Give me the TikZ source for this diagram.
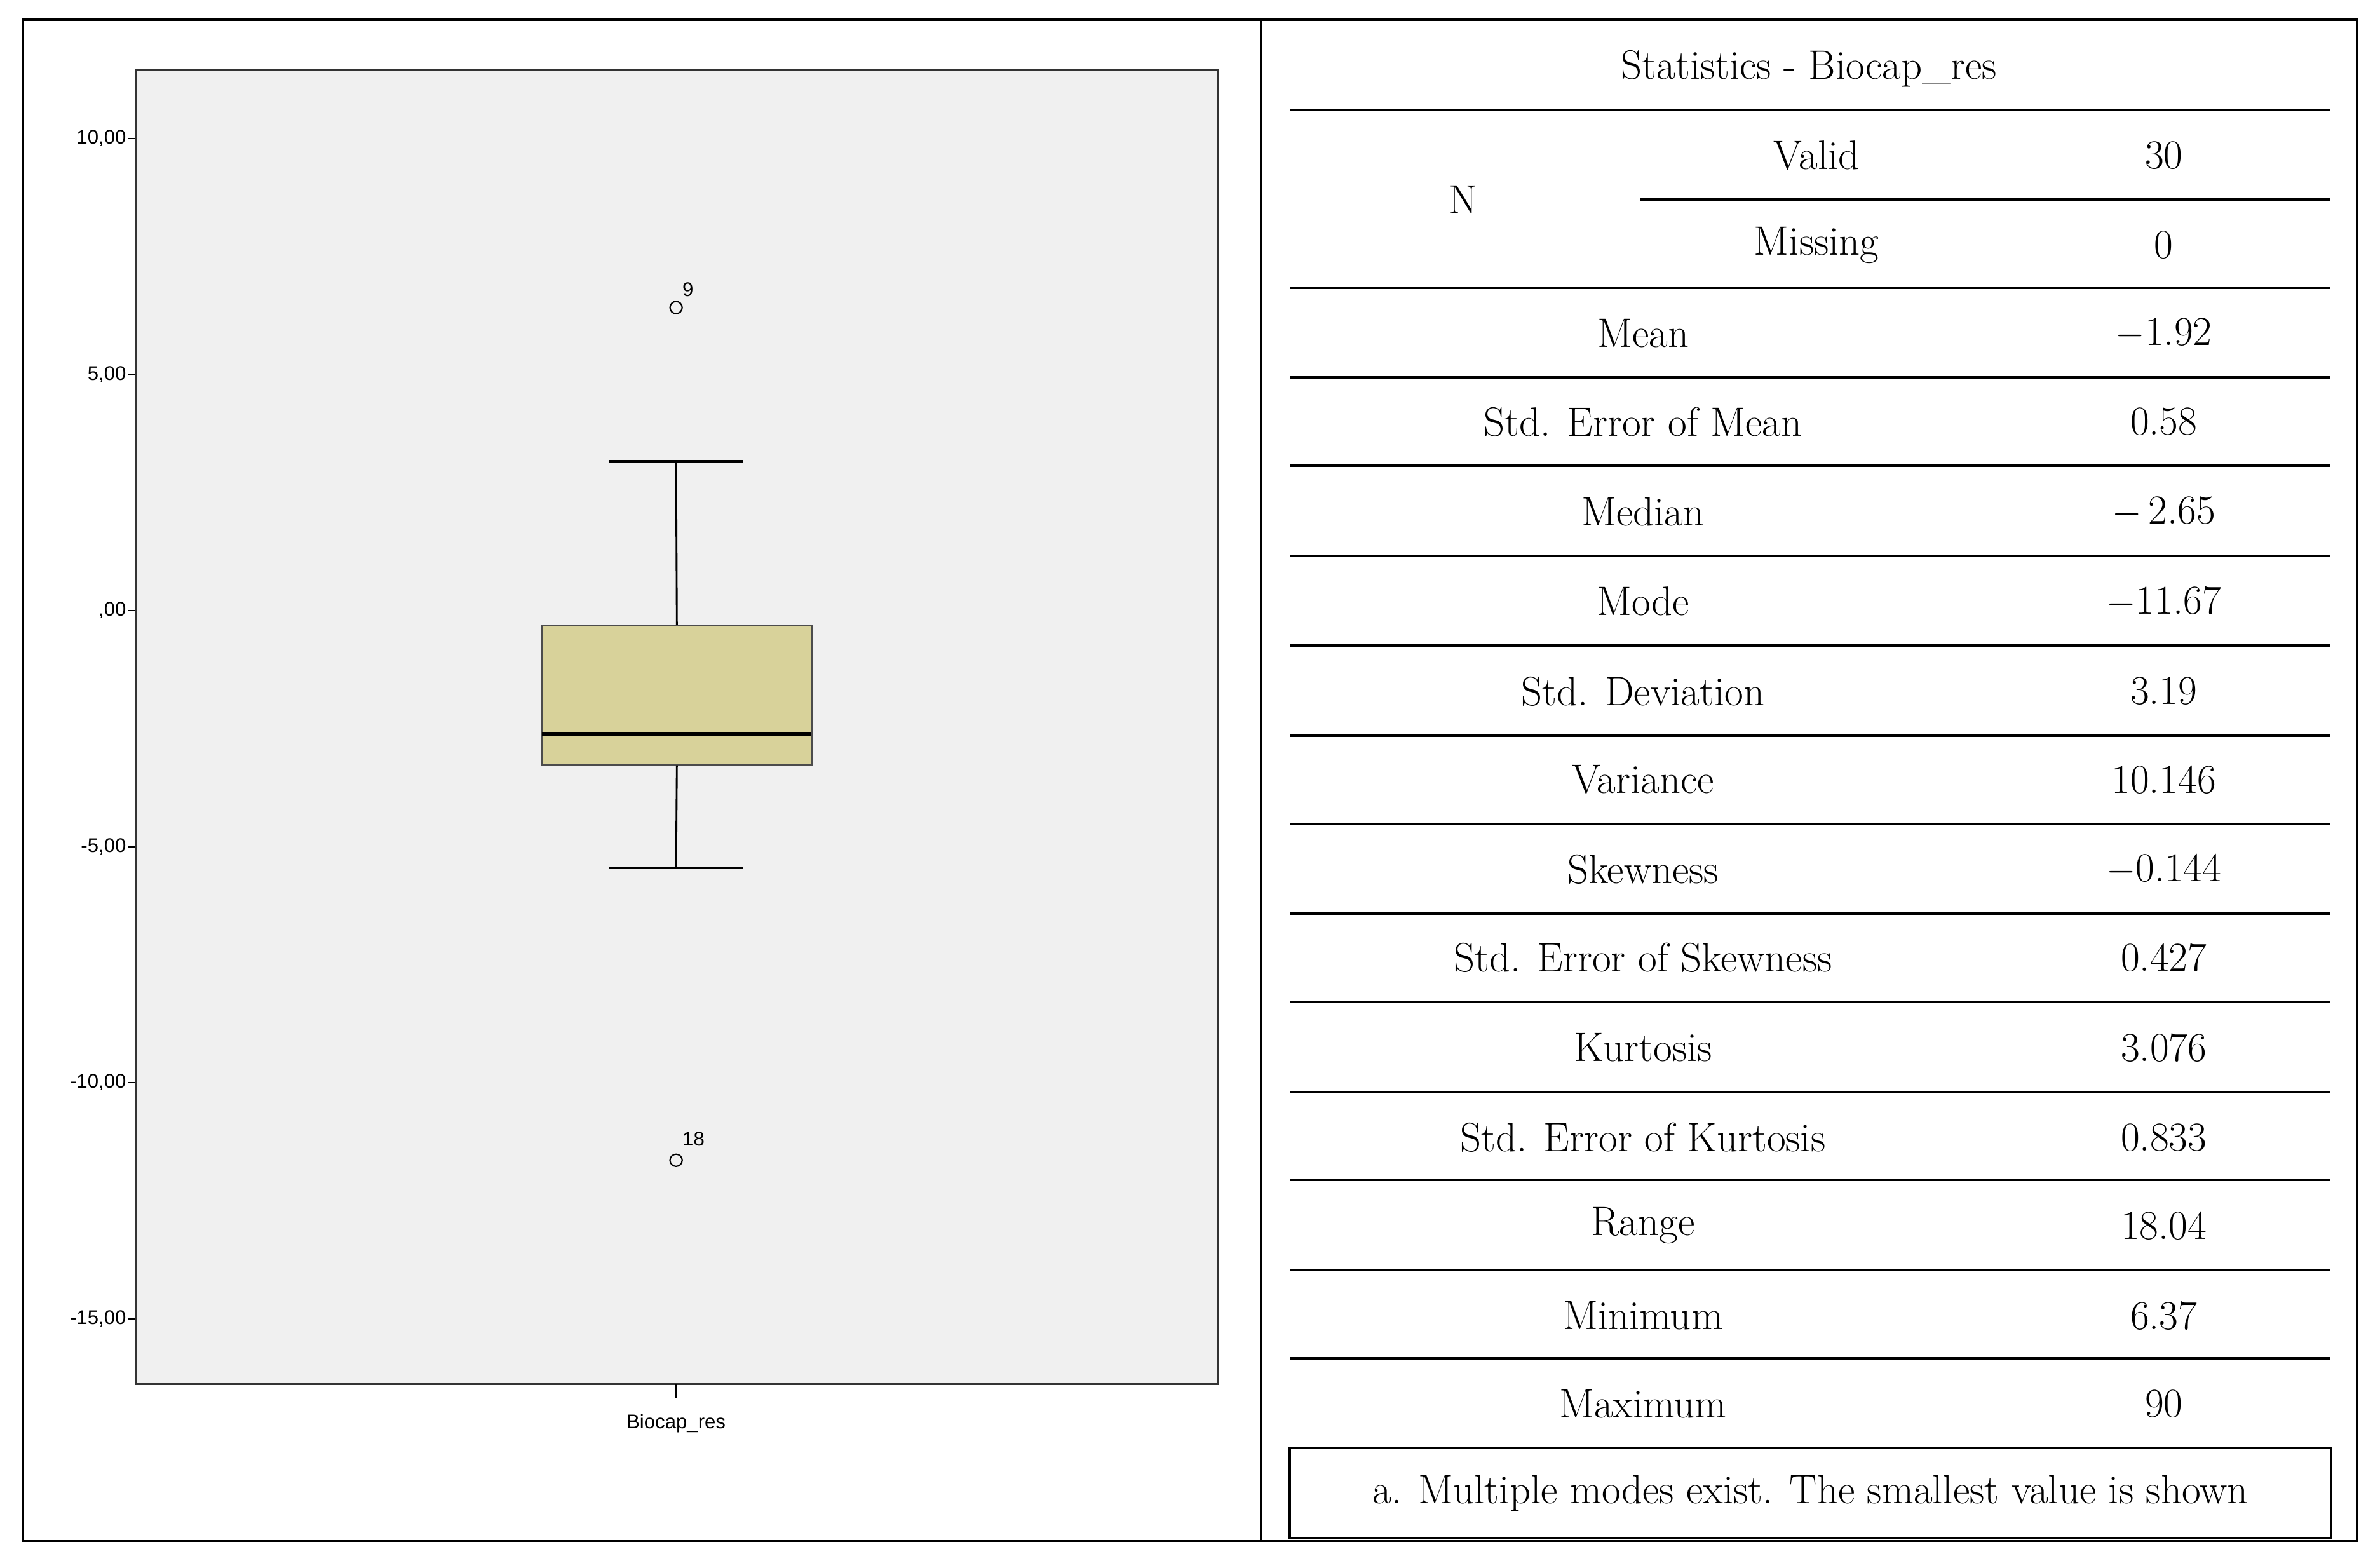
\documentclass[tikz,border=0pt]{standalone}
\usepackage{fontspec}
\newfontfamily\axfont{Liberation Sans}
\definecolor{boxfill}{HTML}{D8D29A}
\definecolor{plotbg}{HTML}{F0F0F0}
\begin{document}
\begin{tikzpicture}[x=1pt,y=-1pt,
  tab/.style={font=\fontsize{27}{30}\selectfont,anchor=center,inner sep=0},
  rule/.style={line width=1.6pt},
  ax/.style={font=\axfont\fontsize{13}{14}\selectfont,inner sep=1pt},
  tk/.style={line width=0.8pt}]
\useasboundingbox (0,0) rectangle (1563,1025);
\fill[white] (0,0) rectangle (1563,1025);
\draw[line width=1.6pt] (15,13) rectangle (1548,1012);
\draw[line width=1.6pt] (828,13) -- (828,1012);
% plot
\draw[fill=plotbg,line width=1.2pt,draw=black!80] (89,46) rectangle (800,909);
\foreach \y/\l in {91/{10,00},246/{5,00},401/{,00},556/{-5,00},711/{-10,00},866/{-15,00}}{
  \draw[tk] (84,\y) -- (89,\y);
  \node[ax,anchor=east] at (84,\y) {\l};}
\draw[tk] (444,909) -- (444,918);
\node[ax] (xl) at (444,935) {Biocap\_res};
\coordinate (wt) at (444,303); \coordinate (wb) at (444,570);
\node[draw=black!70,fill=boxfill,line width=1.2pt,minimum width=177pt,minimum height=91pt,inner sep=0] (box) at (444.5,456.5) {};
\draw[line width=1.2pt] (box.north) -- (wt);
\draw[line width=1.2pt] (box.south) -- (wb);
\draw[line width=1.6pt] (400,303) -- (488,303);
\draw[line width=1.6pt] (400,570) -- (488,570);
\draw[line width=3pt] (356,482) -- (533,482);
\node[draw,circle,line width=0.9pt,minimum size=8pt,inner sep=0] (o1) at (444,202) {};
\node[ax,anchor=south west] at (447,196) {9};
\node[draw,circle,line width=0.9pt,minimum size=8pt,inner sep=0] (o2) at (444,762) {};
\node[ax,anchor=south west] at (447,754) {18};
% table
\node[tab] (title) at (1188,45) {Statistics - Biocap\_res};
\foreach \y in {72,189,248,306,365,424,483,541,600,658,717,775,834,892}{
  \draw[rule] (847,\y) -- (1530,\y);}
\draw[rule] (1077,131) -- (1530,131);
\node[tab] (n) at (961,131) {N};
\node[tab] at (1193,102) {Valid}; \node[tab] at (1421,102) {30};
\node[tab] at (1193,161) {Missing}; \node[tab] at (1421,161) {0};
\foreach \y/\a/\b in {219/Mean/$-$1.92, 277/Std. Error of Mean/0.58, 336/Median/$-$\,2.65,
  395/Mode/$-$11.67, 454/Std. Deviation/3.19, 512/Variance/10.146, 571/Skewness/$-$0.144,
  629/Std. Error of Skewness/0.427, 688/Kurtosis/3.076, 747/Std. Error of Kurtosis/0.833,
  805/Range/18.04, 864/Minimum/6.37, 922/Maximum/90}{
  \node[tab] at (1079,\y) {\a}; \node[tab] at (1421,\y) {\b};}
\node[draw,line width=1.6pt,minimum width=684pt,minimum height=59pt,inner sep=0,font=\fontsize{27}{30}\selectfont] (foot) at (1189,980.5) {a. Multiple modes exist. The smallest value is shown};
\end{tikzpicture}
\end{document}
